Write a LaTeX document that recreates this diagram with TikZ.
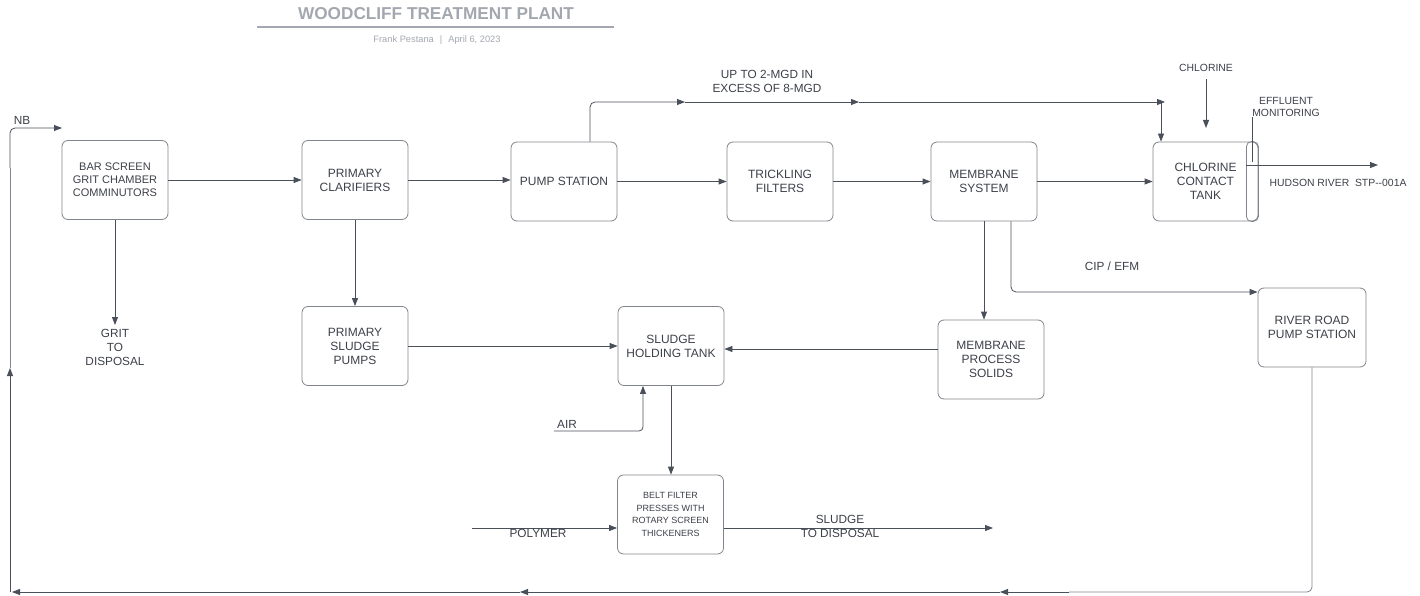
\documentclass[tikz,border=0pt]{standalone}
\usepackage{fontspec}
\setmainfont{Liberation Sans}
\usepackage{tikz}
\usetikzlibrary{arrows.meta, positioning, calc}
\definecolor{linegray}{HTML}{4A505A}
\definecolor{boxgray}{HTML}{80848C}
\definecolor{txtgray}{HTML}{3C4048}
\definecolor{titlegray}{HTML}{A3A7AF}

\tikzset{
  unit/.style={draw=boxgray, line width=0.8pt, rounded corners=6pt, minimum width=106pt, minimum height=79pt, align=center, text=txtgray, font=\fontsize{12}{14}\selectfont, inner sep=2pt},
  flow/.style={draw=linegray, line width=0.8pt, -{Triangle[length=8pt,width=6pt]}},
  pipe/.style={draw=linegray, line width=0.8pt},
  faint/.style={draw=boxgray, line width=0.8pt},
  lbl/.style={text=txtgray, align=center, font=\fontsize{11.8}{14}\selectfont, inner sep=0pt},
  smalltxt/.style={font=\fontsize{10.4}{12.5}\selectfont},
  tinytxt/.style={font=\fontsize{9}{12.4}\selectfont}
}

\begin{document}
\begin{tikzpicture}[x=1pt, y=-1pt]
    \useasboundingbox (0,0) rectangle (1420,596);

    % Title
    \node[text=titlegray, font=\bfseries\fontsize{17.2}{20}\selectfont] (title) at (436,14) {WOODCLIFF TREATMENT PLANT};
    \draw[titlegray, line width=1.5pt] (257,27) -- (614,27);
    \node[text=titlegray, font=\fontsize{9.3}{11}\selectfont] (author) at (437,40) {Frank Pestana\hspace{6pt}|\hspace{6pt}April 6, 2023};

    % Main treatment line
    \node[unit, font=\fontsize{11}{12.8}\selectfont] (bar) at (115,180) {BAR SCREEN\\GRIT CHAMBER\\COMMINUTORS};
    \node[unit] (clar) at (355,180) {PRIMARY\\CLARIFIERS};
    \node[unit] (pump) at (564,181.5) {PUMP STATION};
    \node[unit] (trick) at (780,181.5) {TRICKLING\\FILTERS};
    \node[unit] (memb) at (984,181.5) {MEMBRANE\\SYSTEM};
    \node[unit, minimum width=105pt] (chlor) at (1205.5,181.5) {CHLORINE\\CONTACT\\TANK};
    \draw[boxgray, line width=0.8pt, rounded corners=5pt] ($(chlor.north east)+(-12,0)$) rectangle (chlor.south east);
    \node[unit, minimum width=108pt] (river) at (1312,327.5) {RIVER ROAD\\PUMP STATION};

    % Solids line
    \node[unit] (psp) at (355,346) {PRIMARY\\SLUDGE\\PUMPS};
    \node[unit] (sht) at (671,346) {SLUDGE\\HOLDING TANK};
    \node[unit] (mps) at (991,359.5) {MEMBRANE\\PROCESS\\SOLIDS};
    \node[unit, tinytxt] (belt) at (670.5,514.5) {BELT FILTER\\PRESSES WITH\\ROTARY SCREEN\\THICKENERS};

    % Flow through the plant
    \draw[flow] (bar.east) -- (clar.west);
    \draw[flow] (clar.east) -- (clar.east -| pump.west);
    \draw[flow] (pump.east) -- (trick.west);
    \draw[flow] (trick.east) -- (memb.west);
    \draw[flow] (memb.east) -- (memb.east -| chlor.west);

    % Bypass to chlorine contact tank
    \coordinate (byp1) at (685,102);
    \coordinate (byp2) at (859,102);
    \coordinate (byp3) at (1165,102);
    \coordinate (bypdown) at ([xshift=-44.5pt]chlor.north);
    \draw[flow, rounded corners=5pt] ([xshift=26pt]pump.north) |- (byp1);
    \draw[flow] (byp1) -- (byp2);
    \draw[flow] (byp2) -- (byp3);
    \draw[flow] (bypdown |- byp3) -- (bypdown);
    \node[lbl] (bypass) at (767,81) {UP TO 2-MGD IN\\EXCESS OF 8-MGD};

    % Chlorine, monitoring and outfall
    \node[lbl, smalltxt] (cl2) at (1206,68) {CHLORINE};
    \coordinate (cl2in) at (1206,128);
    \draw[flow] ([yshift=-7pt]cl2.south) -- (cl2in);
    \node[lbl, smalltxt] (effl) at (1286,107) {EFFLUENT\\MONITORING};
    \coordinate (probe) at (1252,162);
    \draw[pipe] (probe |- effl.south) -- (probe);
    \coordinate (weir) at (1246,165);
    \coordinate (outfall) at (1378,165);
    \draw[flow] (weir) -- (outfall);
    \node[lbl, smalltxt] (hudson) at (1338,183) {HUDSON RIVER\ \ STP-{}-001A};

    % Grit
    \coordinate (gritout) at (115,325);
    \draw[flow] (bar.south) -- (gritout);
    \node[lbl] (grit) at (115,347) {GRIT\\TO\\DISPOSAL};

    % Sludge handling
    \draw[flow] (clar.south) -- (psp.north);
    \draw[flow] (psp.east) -- (sht.west);
    \coordinate (mpsout) at ([yshift=10.5pt]mps.west);
    \draw[flow] (mpsout) -- (mpsout -| sht.east);
    \draw[flow] (memb.south) -- (memb.south |- mps.north);
    \coordinate (cipout) at ([xshift=27pt]memb.south);
    \coordinate (rrin) at ([yshift=35.5pt]river.west);
    \draw[flow, rounded corners=5pt] (cipout) |- (rrin);
    \node[lbl] (cip) at (1112,266) {CIP / EFM};

    \coordinate (airin) at (554,431);
    \coordinate (airup) at ([xshift=-28pt]sht.south);
    \draw[flow, rounded corners=4pt] (airin) -| (airup);
    \node[lbl] (air) at (567,424) {AIR};
    \draw[flow] (sht.south) -- (sht.south |- belt.north);

    \coordinate (polyin) at (472,528);
    \draw[flow] (polyin) -- (polyin -| belt.west);
    \node[lbl] (poly) at (538,533) {POLYMER};
    \coordinate (cakeout) at (993,528);
    \draw[flow] (cakeout -| belt.east) -- (cakeout);
    \node[lbl] (cake) at (840,526) {SLUDGE\\TO DISPOSAL};

    % Return to head of plant
    \coordinate (ret0) at (1069,592);
    \coordinate (ret1) at (1000,592);
    \coordinate (ret2) at (520,592);
    \coordinate (ret3) at (12,592);
    \coordinate (ret4) at (10,368);
    \coordinate (nbin) at (62,128);
    \draw[faint, rounded corners=5pt] (river.south) |- (ret0);
    \draw[flow] (ret0) -- (ret1);
    \draw[flow] (ret1) -- (ret2);
    \draw[flow] (ret2) -- (ret3);
    \draw[flow] (ret3 -| ret4) -- (ret4);
    \draw[faint, rounded corners=5pt] (ret4) -- ++(0,-200) coordinate (ret5);
    \draw[flow, rounded corners=5pt] (ret5) |- (nbin);
    \node[lbl] (nb) at (22,120) {NB};
\end{tikzpicture}
\end{document}
